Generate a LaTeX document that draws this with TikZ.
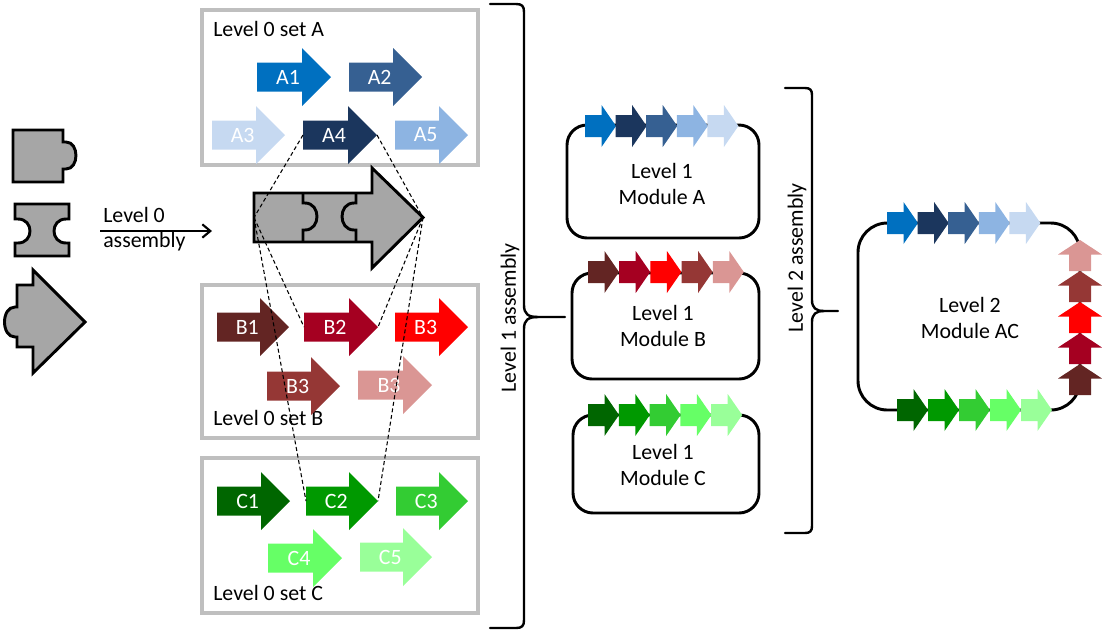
\documentclass[tikz,border=0pt]{standalone}
\usepackage{fontspec}
\setmainfont{Carlito}
\usetikzlibrary{arrows.meta}
\definecolor{ablue}{HTML}{0070C0}
\definecolor{anavy}{HTML}{1B365D}
\definecolor{asteel}{HTML}{366092}
\definecolor{alight}{HTML}{8DB4E2}
\definecolor{apale}{HTML}{C6D9F1}
\definecolor{bmaroon}{HTML}{632523}
\definecolor{bcrimson}{HTML}{A50021}
\definecolor{bred}{HTML}{FF0000}
\definecolor{bbrown}{HTML}{953735}
\definecolor{bpink}{HTML}{DA9694}
\definecolor{cdark}{HTML}{006600}
\definecolor{cgreen}{HTML}{009900}
\definecolor{cmid}{HTML}{33CC33}
\definecolor{clight}{HTML}{66FF66}
\definecolor{cpale}{HTML}{99FF99}
\definecolor{boxgray}{HTML}{BFBFBF}
\definecolor{piecegray}{HTML}{A6A6A6}
\tikzset{
  txt/.style={font=\fontsize{16.4}{19}\selectfont, inner sep=0pt},
  lab/.style={txt, text=white},
  setbox/.style={draw=boxgray, line width=2.4pt},
  piece/.style={fill=piecegray, draw=black, line width=2.2pt},
  module/.style={draw=black, line width=2.2pt, rounded corners=15pt},
  guide/.style={black, line width=0.8pt, dash pattern=on 3pt off 2pt},
  brace/.style={draw=black, line width=1.8pt, line cap=round},
}
% big arrow: name, x left, x tip, y centre, colour, label
\newcommand\bigarr[6]{%
  \fill[#5] (#2,#4-14.5) -- (#3-29,#4-14.5) -- (#3-29,#4-29) -- (#3,#4) -- (#3-29,#4+29) -- (#3-29,#4+14.5) -- (#2,#4+14.5) -- cycle;
  \coordinate (#1-l) at (#2,#4);
  \coordinate (#1-t) at (#3,#4);
  \node[lab] (#1) at ({#2+0.42*(#3-#2)},#4) {#6};
}
% small arrow: x left, y centre, colour
\newcommand\smarr[3]{%
  \fill[#3] (#1,#2-11) -- (#1+16.5,#2-11) -- (#1+16.5,#2-21) -- (#1+31,#2) -- (#1+16.5,#2+21) -- (#1+16.5,#2+11) -- (#1,#2+11) -- cycle;
}
% upward arrow: x centre, y bottom, colour
\newcommand\uparr[3]{%
  \fill[#3] (#1-11,#2) -- (#1-11,#2-16.5) -- (#1-22,#2-16.5) -- (#1,#2-31) -- (#1+22,#2-16.5) -- (#1+11,#2-16.5) -- (#1+11,#2) -- cycle;
}
\begin{document}
\begin{tikzpicture}[x=0.75pt, y=-0.75pt]
\path[use as bounding box] (0,0) rectangle (1102,633);

% ---------- single puzzle pieces ----------
\draw[piece] (13,130) -- (63,130) -- (63,142) -- (66,142)
  .. controls (79.3,142) and (79.3,169) .. (66,169) -- (63,169) -- (63,182) -- (13,182) -- cycle;
\draw[piece] (15,204) -- (69,204) -- (69,219) -- (66,219)
  .. controls (50,219) and (50,243) .. (66,243) -- (69,243) -- (69,256) -- (15,256) -- (15,243) -- (18,243)
  .. controls (34,243) and (34,219) .. (18,219) -- (15,219) -- cycle;
\draw[piece] (33,270) -- (85,322) -- (33,373) -- (33,347) -- (17,347) -- (17,337) -- (15,337)
  .. controls (1,337) and (1,307) .. (15,307) -- (17,307) -- (17,285) -- (33,285) -- cycle;

% ---------- level 0 assembly arrow ----------
\node[txt, anchor=base west] (l0a) at (103,222) {Level 0};
\node[txt, anchor=base west] (l0b) at (103,247) {assembly};
\coordinate (l0s) at (100,231);
\coordinate (l0e) at (212,231);
\draw[line width=1.6pt, -{Straight Barb[length=6pt,width=10pt]}] (l0s) -- (l0e);

% ---------- set boxes ----------
\draw[setbox] (202,10) rectangle (478,165);
\draw[setbox] (202,285) rectangle (478,438);
\draw[setbox] (202,458) rectangle (478,613);
\node[txt, anchor=west] (setA) at (213,29) {Level 0 set A};
\node[txt, anchor=west] (setB) at (213,418) {Level 0 set B};
\node[txt, anchor=west] (setC) at (213,593) {Level 0 set C};

% set A
\bigarr{A1}{257}{331}{77}{ablue}{A1}
\bigarr{A2}{349}{422}{77}{asteel}{A2}
\bigarr{A3}{212}{285}{135}{apale}{A3}
\bigarr{A4}{303}{377}{135}{anavy}{A4}
\bigarr{A5}{395}{468}{135}{alight}{A5}
% set B
\bigarr{B1}{217}{289}{327}{bmaroon}{B1}
\bigarr{B2}{304}{378}{327}{bcrimson}{B2}
\bigarr{B3}{395}{468}{327}{bred}{B3}
\bigarr{B4}{267}{340}{386}{bbrown}{B3}
\bigarr{B5}{358}{432}{385}{bpink}{B3}
% set C
\bigarr{C1}{217}{290}{501}{cdark}{C1}
\bigarr{C2}{306}{378}{501}{cgreen}{C2}
\bigarr{C3}{396}{468}{501}{cmid}{C3}
\bigarr{C4}{268}{342}{558}{clight}{C4}
\bigarr{C5}{360}{432}{557}{cpale}{C5}

% ---------- assembled arrow ----------
\draw[piece] (254,193) -- (372,193) -- (372,168) -- (423,217.5) -- (372,268) -- (372,242) -- (254,242) -- cycle;
\draw[black, line width=2.2pt] (303,193) -- (303,203) -- (305,203)
  .. controls (321,203) and (321,230) .. (305,230) -- (303,230) -- (303,242);
\draw[black, line width=2.2pt] (356,193) -- (356,203) -- (354,203)
  .. controls (338,203) and (338,230) .. (354,230) -- (356,230) -- (356,242);
\coordinate (asm-l) at (254,217.5);
\coordinate (asm-t) at (423,217.5);

% ---------- dashed guides ----------
\draw[guide] (A4-l) -- (asm-l);
\draw[guide] (A4-t) -- (asm-t);
\draw[guide] (asm-l) -- (B2-l);
\draw[guide] (asm-l) -- (C2-l);
\draw[guide] (asm-t) -- (B2-t);
\draw[guide] (asm-t) -- (C2-t);

% ---------- level 1 brace ----------
\draw[brace] (490,4) -- (516,4) .. controls (522,4) and (524,6) .. (524,12) -- (524,305)
  .. controls (524,314) and (528,317) .. (538,317) -- (565,317);
\draw[brace] (538,317) .. controls (528,317) and (524,320) .. (524,329) -- (524,620)
  .. controls (524,626) and (522,628) .. (516,628) -- (490,628);
\node[txt, rotate=90] (lv1) at (510,318) {Level 1 assembly};

% ---------- level 1 modules ----------
\draw[module] (567,125) rectangle (759,238);
\draw[module] (572,273) rectangle (759,379);
\draw[module] (573,415) rectangle (759,513);
\foreach \c [count=\i from 0] in {ablue,anavy,asteel,alight,apale}
  {\smarr{585+\i*30.6}{126}{\c}}
\foreach \c [count=\i from 0] in {bmaroon,bcrimson,bred,bbrown,bpink}
  {\smarr{588+\i*31.2}{272}{\c}}
\foreach \c [count=\i from 0] in {cdark,cgreen,cmid,clight,cpale}
  {\smarr{588+\i*30.8}{415}{\c}}
\node[txt, align=center] (modA) at (662,184) {Level 1\\Module A};
\node[txt, align=center] (modB) at (663,326) {Level 1\\Module B};
\node[txt, align=center] (modC) at (663,465) {Level 1\\Module C};

% ---------- level 2 brace ----------
\draw[brace] (785,88) -- (805,88) .. controls (810,88) and (812,90) .. (812,95) -- (812,300)
  .. controls (812,308) and (816,311) .. (824,311) -- (838,311);
\draw[brace] (824,311) .. controls (816,311) and (812,314) .. (812,322) -- (812,526)
  .. controls (812,531) and (810,533) .. (805,533) -- (785,533);
\node[txt, rotate=90] (lv2) at (797,258) {Level 2 assembly};

% ---------- level 2 module ----------
\draw[black, line width=2.2pt, rounded corners=22pt] (858,223) rectangle (1080,410);
\foreach \c [count=\i from 0] in {ablue,anavy,asteel,alight,apale}
  {\smarr{887+\i*30.6}{223}{\c}}
\foreach \c [count=\i from 0] in {cdark,cgreen,cmid,clight,cpale}
  {\smarr{897+\i*31}{410}{\c}}
\foreach \c [count=\i from 0] in {bmaroon,bcrimson,bred,bbrown,bpink}
  {\uparr{1080}{395-\i*31}{\c}}
\node[txt, align=center] (modAC) at (970,318) {Level 2\\Module AC};
\end{tikzpicture}
\end{document}
